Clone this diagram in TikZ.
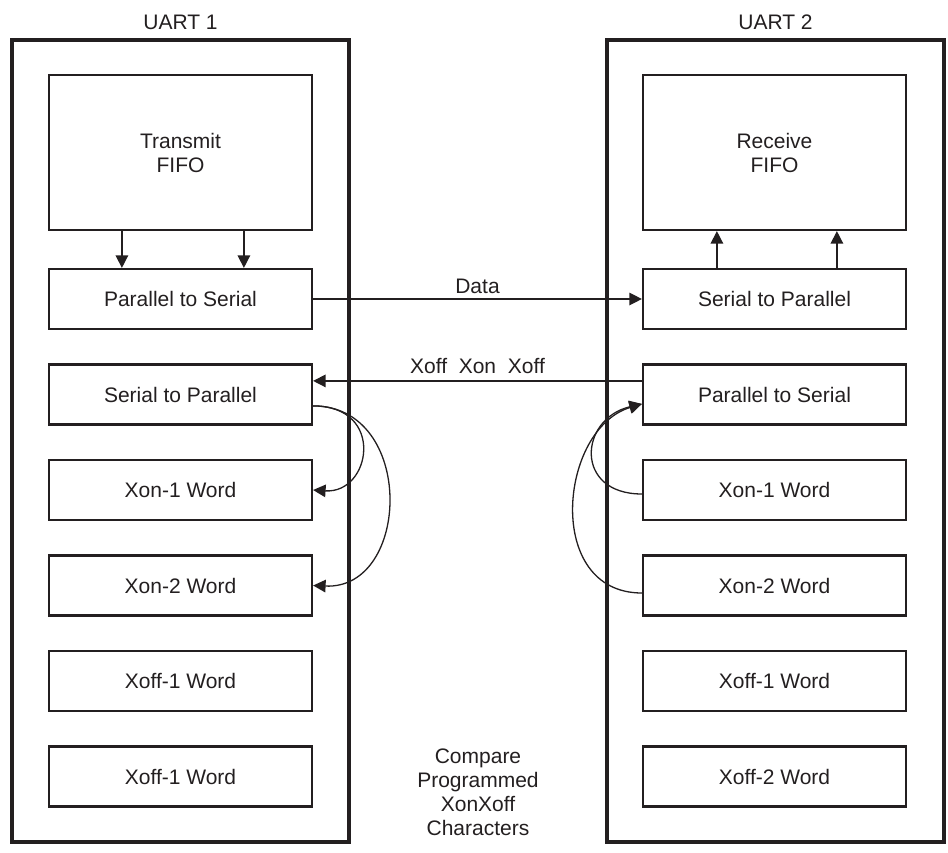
\documentclass[tikz,border=0pt]{standalone}
\usepackage{fontspec}
\setmainfont{Liberation Sans}
\usetikzlibrary{arrows.meta}
\definecolor{ink}{RGB}{35,31,32}
\begin{document}
\begin{tikzpicture}[x=1pt,y=-1pt,
  every node/.style={font=\fontsize{21}{24}\selectfont, text=ink},
  uart/.style={draw=ink, line width=3.3pt, minimum width=337pt, minimum height=802pt, inner sep=0pt},
  fifobox/.style={draw=ink, line width=2.2pt, minimum width=263pt, minimum height=155pt, align=center, inner sep=0pt},
  regbox/.style={draw=ink, line width=2.2pt, minimum width=263pt, minimum height=60pt, inner sep=0pt},
  conn/.style={draw=ink, line width=1.3pt},
  arr/.style={conn, -{Triangle[length=12.5pt,width=12.5pt]}},
]
\useasboundingbox (0,0) rectangle (948,852);

% outer UART frames
\node[uart] (u1) at (180.5,441) {};
\node[uart] (u2) at (775.5,441) {};
\node (u1lbl) at (180.5,22) {UART 1};
\node (u2lbl) at (775.5,22) {UART 2};

% UART 1 blocks
\node[fifobox] (tfifo) at (180.5,152.5) {Transmit\\FIFO};
\node[regbox] (lp2s)  at (180.5,299)   {Parallel to Serial};
\node[regbox] (ls2p)  at (180.5,394.5) {Serial to Parallel};
\node[regbox] (lxon1) at (180.5,490)   {Xon-1 Word};
\node[regbox] (lxon2) at (180.5,585.5) {Xon-2 Word};
\node[regbox] (lxof1) at (180.5,681)   {Xoff-1 Word};
\node[regbox] (lxof2) at (180.5,776.5) {Xoff-1 Word};

% UART 2 blocks
\node[fifobox] (rfifo) at (774.5,152.5) {Receive\\FIFO};
\node[regbox] (rs2p)  at (774.5,299)   {Serial to Parallel};
\node[regbox] (rp2s)  at (774.5,394.5) {Parallel to Serial};
\node[regbox] (rxon1) at (774.5,490)   {Xon-1 Word};
\node[regbox] (rxon2) at (774.5,585.5) {Xon-2 Word};
\node[regbox] (rxof1) at (774.5,681)   {Xoff-1 Word};
\node[regbox] (rxof2) at (774.5,776.5) {Xoff-2 Word};

\node[align=center, inner sep=0pt] (cmp) at (478,792.5) {Compare\\Programmed\\XonXoff\\Characters};

% FIFO connections
\draw[arr] ([xshift=74pt]tfifo.south west) -- ([xshift=74pt]lp2s.north west);
\draw[arr] ([xshift=196pt]tfifo.south west) -- ([xshift=196pt]lp2s.north west);
\draw[arr] ([xshift=75pt]rs2p.north west) -- ([xshift=75pt]rfifo.south west);
\draw[arr] ([xshift=195pt]rs2p.north west) -- ([xshift=195pt]rfifo.south west);

% serial links
\draw[arr] (lp2s.east) -- node[above=1.7pt] (datalbl) {Data} (rs2p.west);
\draw[arr] ([yshift=-17.5pt]rp2s.north west) -- node[above=3.7pt] (xlbl) {Xoff~~Xon~~Xoff} ([yshift=-17.5pt]ls2p.north east);

% compare curves, UART 1
\draw[arr] ([yshift=-42.5pt]ls2p.north east) .. controls +(73,0) and +(58,4) .. (lxon1.east);
\draw[arr] ([yshift=-42.5pt]ls2p.north east) .. controls +(103,0) and +(98,4.5) .. (lxon2.east);

% compare curves, UART 2
\draw[arr] ([yshift=-4pt]rxon1.west) .. controls +(-68,0) and +(-63,15) .. ([yshift=-40.5pt]rp2s.north west);
\draw[arr] ([yshift=-7.5pt]rxon2.west) .. controls +(-98,0) and +(-83,25) .. ([yshift=-40.5pt]rp2s.north west);
\end{tikzpicture}
\end{document}
